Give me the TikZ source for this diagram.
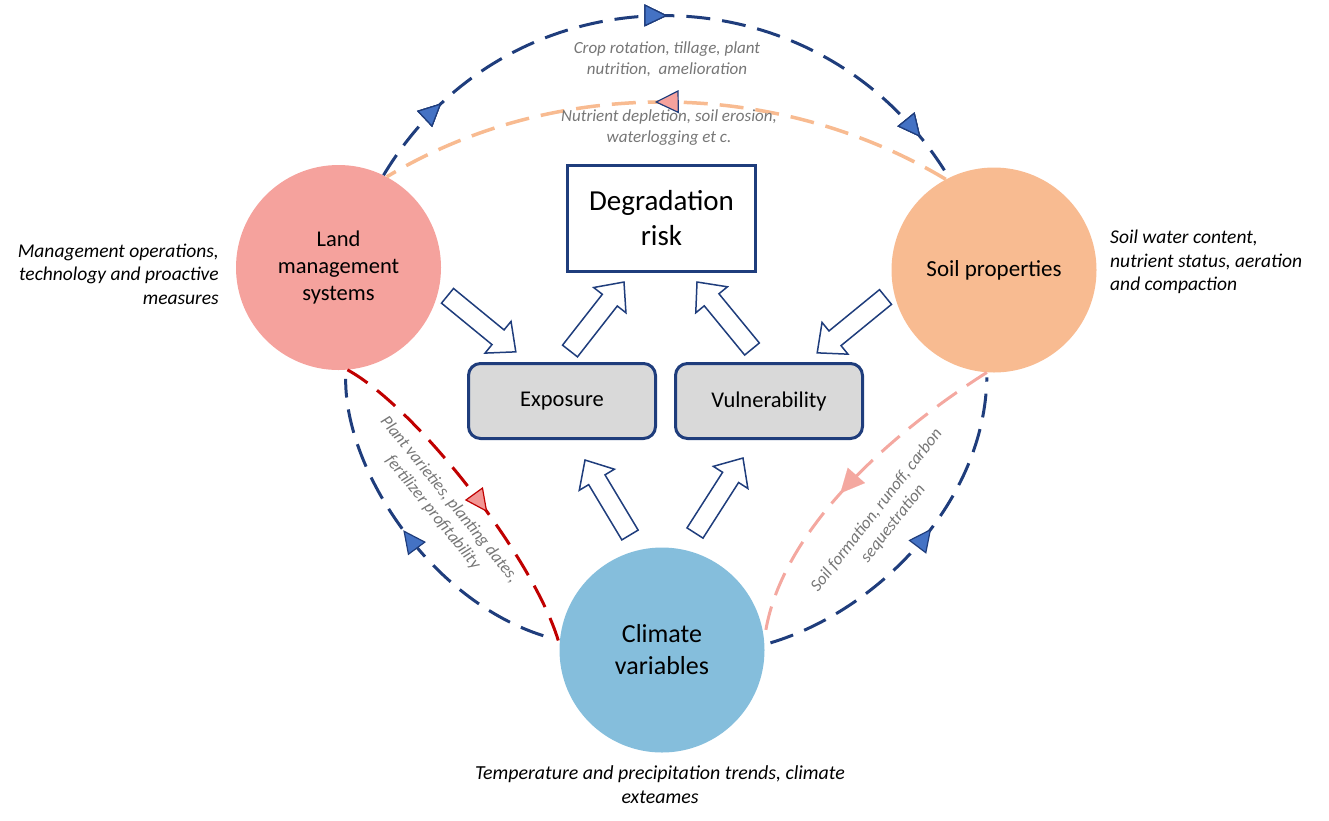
\documentclass[tikz,border=0pt]{standalone}
\usepackage{fontspec}
\setmainfont{Carlito}
\usetikzlibrary{arrows.meta,decorations.markings,calc}
\definecolor{dgnavy}{RGB}{31,61,124}
\definecolor{dgbluefill}{RGB}{68,114,196}
\definecolor{landc}{RGB}{245,162,157}
\definecolor{soilc}{RGB}{248,187,145}
\definecolor{climc}{RGB}{133,190,220}
\definecolor{dgred}{RGB}{192,0,0}
\definecolor{redtipfill}{RGB}{242,150,148}
\definecolor{salmonline}{RGB}{244,168,160}
\definecolor{orangeline}{RGB}{248,187,145}
\definecolor{graytxt}{RGB}{118,118,118}
\definecolor{boxgray}{RGB}{217,217,217}
\newdimen\dgax \newdimen\dgay \newdimen\dgbx \newdimen\dgby
\newcommand\dgBlockArrow[2]{%
 \pgfextractx{\dgax}{\pgfpointanchor{#1}{center}}%
 \pgfextracty{\dgay}{\pgfpointanchor{#1}{center}}%
 \pgfextractx{\dgbx}{\pgfpointanchor{#2}{center}}%
 \pgfextracty{\dgby}{\pgfpointanchor{#2}{center}}%
 \pgfmathsetmacro\dgang{atan2(\dgby-\dgay,\dgbx-\dgax)}%
 \pgfmathsetmacro\dglen{veclen(\dgbx-\dgax,\dgby-\dgay)}%
 \begin{scope}[shift={(\the\dgax,\the\dgay)},rotate=\dgang]
  \draw[blockarr] (0,-9.5) -- ({\dglen-23},-9.5) -- ({\dglen-23},-20.5) -- (\dglen,0)
     -- ({\dglen-23},20.5) -- ({\dglen-23},9.5) -- (0,9.5) -- cycle;
 \end{scope}}
\tikzset{
  bluetip/.tip={Triangle[length=23pt, width=22pt, fill=dgbluefill, color=dgnavy, line width=1.2pt]},
  pinktip/.tip={Triangle[length=24pt, width=23pt, fill=landc, color=dgnavy, line width=1.2pt]},
  redtip/.tip={Triangle[length=23pt, width=22pt, fill=redtipfill, color=dgred, line width=1.2pt]},
  salmontip/.tip={Triangle[length=24pt, width=23pt, fill=salmonline, color=salmonline, line width=0.1pt]},
  circ/.style={circle, minimum size=205pt, inner sep=0pt, align=center},
  blockarr/.style={draw=dgnavy, fill=white, line width=1.5pt, line join=miter},
  dashline/.style={line width=3pt, dash pattern=on 24pt off 12pt},
  bluedash/.style={dashline, draw=dgnavy},
  marktip/.style 2 args={postaction={decorate}, decoration={markings, mark=at position #1 with {\arrow{#2}}}},
  graylab/.style={text=graytxt, font=\fontsize{17}{21}\selectfont\itshape, align=center, inner sep=0pt},
  sidetxt/.style={font=\fontsize{19.5}{23.5}\selectfont\itshape, inner sep=0pt},
  outbox/.style={draw=dgnavy, line width=3pt, fill=white, align=center},
  midbox/.style={draw=dgnavy, line width=3pt, fill=boxgray, rounded corners=12pt, minimum width=187pt, minimum height=75pt, font=\fontsize{22.5}{27}\selectfont}
}
\begin{document}
\begin{tikzpicture}[x=1pt,y=1pt]
\useasboundingbox (0,0) rectangle (1329,-820);
% circles
\node[circ, fill=landc, font=\fontsize{22.5}{27}\selectfont] (land) at (338.5,-267.5) {Land\\management\\systems};
\node[circ, fill=soilc, font=\fontsize{23}{28}\selectfont] (soil) at (994,-270) {Soil properties};
\node[circ, fill=climc, font=\fontsize{26}{32}\selectfont] (clim) at (662,-650) {Climate\\variables};
% boxes
\node[outbox, minimum width=188pt, minimum height=106pt, font=\fontsize{29}{35}\selectfont] (risk) at (661.5,-218.5) {Degradation\\risk};
\node[midbox] (expo) at (562,-401) {Exposure};
\node[midbox] (vuln) at (769,-401) {Vulnerability};
% top arcs
\draw[bluedash, marktip={0.136}{bluetip}, marktip={0.501}{bluetip}, marktip={0.927}{bluetip}]
  (land.64) to[out=59, in=121, looseness=1.13] (soil.116);
\draw[dashline, draw=orangeline, line width=3.5pt, marktip={0.52}{pinktip}]
  (soil.118) to[out=149, in=31, looseness=0.9] (land.62.6);
% left arcs
\draw[dashline, draw=dgred, marktip={0.57}{redtip}]
  (land.-85) .. controls (420,-410) and (538,-565) .. (clim.177);
\draw[bluedash, marktip={0.52}{bluetip}]
  ([xshift=-17pt]clim.172) .. controls (430,-600) and (345,-470) .. ([yshift=-9pt]land.-86);
% right arcs
\draw[dashline, draw=salmonline, marktip={0.53}{salmontip}]
  (soil.-94) .. controls (880,-440) and (775,-540) .. (clim.5);
\draw[bluedash, marktip={0.55}{bluetip}]
  ([xshift=6pt]clim.4) .. controls (880,-610) and (985,-500) .. ([yshift=-5pt]soil.-94);
% block arrows
\coordinate (t1) at (447.5,-295.8); \coordinate (h1) at (516,-352);
\coordinate (t2) at (570,-351);     \coordinate (h2) at (624,-282);
\coordinate (t3) at (752,-349);     \coordinate (h3) at (697,-282);
\coordinate (t4) at (885.5,-297);   \coordinate (h4) at (817,-353);
\coordinate (t5) at (630,-535);     \coordinate (h5) at (585,-460);
\coordinate (t6) at (695,-533);     \coordinate (h6) at (743,-458);
\dgBlockArrow{t1}{h1}
\dgBlockArrow{t2}{h2}
\dgBlockArrow{t3}{h3}
\dgBlockArrow{t4}{h4}
\dgBlockArrow{t5}{h5}
\dgBlockArrow{t6}{h6}
% gray labels
\node[graylab] (lab1) at (667,-59) {Crop rotation, tillage, plant\\nutrition,~ amelioration};
\node[graylab] (lab2) at (669,-128) {Nutrient depletion, soil erosion,\\waterlogging et c.};
\node[graylab, rotate=-51] (lab3) at (441,-506) {Plant varieties, planting dates,\\fertilizer profitability};
\node[graylab, rotate=52] (lab4) at (885,-517) {Soil formation, runoff, carbon\\sequestration};
% side texts
\node[sidetxt, align=right, anchor=east] (sideL) at (219,-274) {Management operations,\\technology and proactive\\measures};
\node[sidetxt, align=left, anchor=west] (sideR) at (1110,-262) {Soil water content,\\nutrient status, aeration\\and compaction};
\node[sidetxt, align=center, font=\fontsize{19.9}{24}\selectfont\itshape] (sideB) at (660,-785) {Temperature and precipitation trends, climate\\exteames};
\end{tikzpicture}
\end{document}
